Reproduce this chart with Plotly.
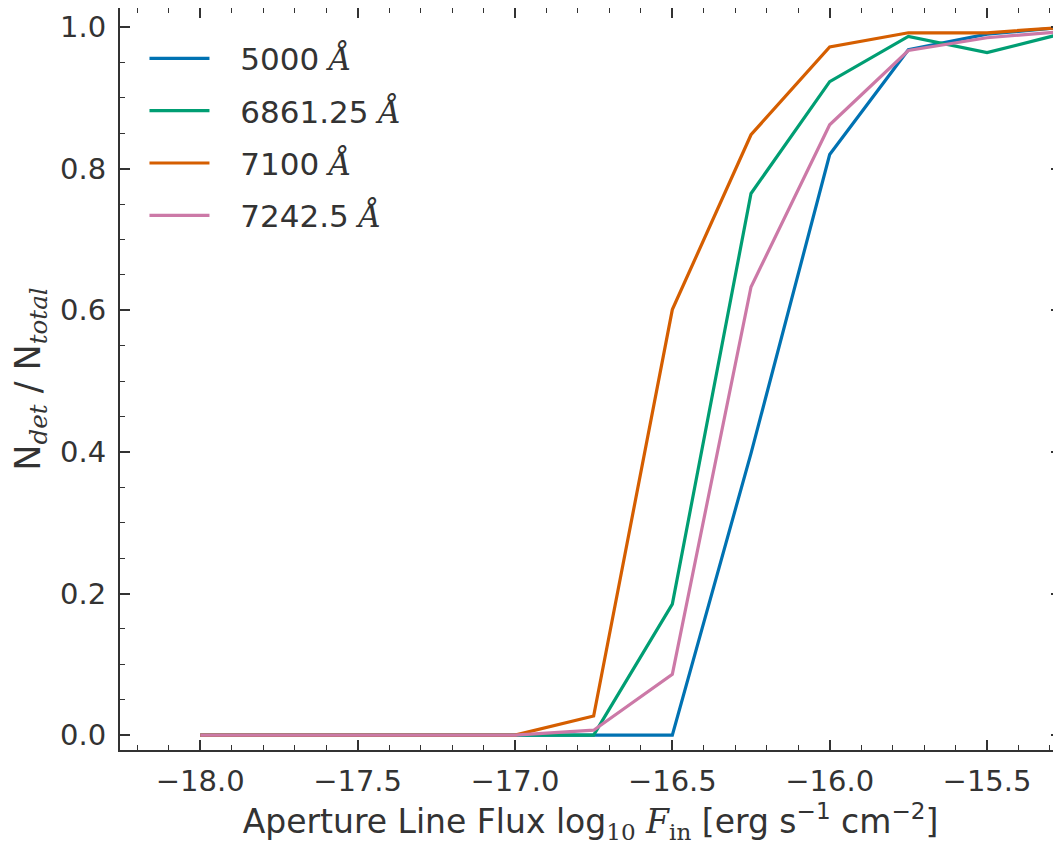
import plotly.graph_objects as go

flux = [-18.0, -17.75, -17.5, -17.25, -17.0, -16.75, -16.5, -16.25, -16.0, -15.75, -15.5, -15.25]
labels = ["5000", "6861.25", "7100", "7242.5"]
colors = ["#0072B2", "#009E73", "#D55E00", "#CC79A7"]
frac_5000 = [0, 0, 0, 0, 0, 0, 0, 0.398, 0.820, 0.968, 0.990, 1.000]
frac_6861 = [0, 0, 0, 0, 0, 0, 0.185, 0.765, 0.923, 0.987, 0.964, 0.992]
frac_7100 = [0, 0, 0, 0, 0, 0.027, 0.601, 0.848, 0.972, 0.992, 0.992, 1.000]
frac_7242 = [0, 0, 0, 0, 0, 0.007, 0.086, 0.633, 0.862, 0.967, 0.985, 0.994]
series = [frac_5000, frac_6861, frac_7100, frac_7242]

TXT = "#333333"
SERIF = "DejaVu Serif"

fig = go.Figure()
for i, (lab, col, ys) in enumerate(zip(labels, colors, series)):
    fig.add_trace(go.Scatter(
        x=flux, y=ys, mode="lines",
        line=dict(color=col, width=3.2),
        name=f"  \u2009{lab} <span style='font-family:{SERIF}'><i>Å</i></span>",
        legendgroup=f"g{i}",
    ))

axis_common = dict(
    showgrid=False, zeroline=False, showline=True, linecolor="#333333", linewidth=2,
    mirror="allticks", ticks="inside", ticklen=10, tickwidth=1.5, tickcolor="#333333",
    tickfont=dict(family="DejaVu Sans", size=29, color=TXT),
    automargin=False,
)

fig.update_xaxes(
    range=[-18.255, -15.265], tickvals=[-18.0, -17.5, -17.0, -16.5, -16.0, -15.5],
    ticktext=["−18.0", "−17.5", "−17.0", "−16.5", "−16.0", "−15.5"],
    minor=dict(dtick=0.1, tick0=-18.0, ticks="inside", ticklen=5, tickcolor="#333333", tickwidth=1),
    ticklabelstandoff=4,
    title=dict(
        text=("Aperture Line Flux log<sub><span style='font-family:" + SERIF + "'>10</span></sub> "
              "<span style='font-family:" + SERIF + "'><i>F</i></span><sub><span style='font-family:" + SERIF + "'>in</span></sub>"
              " [erg s<sup>−1</sup> cm<sup>−2</sup>]"),
        font=dict(family="DejaVu Sans", size=33, color=TXT), standoff=0),
    **axis_common,
)
fig.update_yaxes(
    range=[-0.021, 1.027], tickvals=[0.0, 0.2, 0.4, 0.6, 0.8, 1.0],
    ticktext=["0.0", "0.2", "0.4", "0.6", "0.8", "1.0"],
    minor=dict(dtick=0.05, tick0=0, ticks="inside", ticklen=5, tickcolor="#333333", tickwidth=1),
    ticklabelstandoff=6,
    title=dict(
        text=("N<sub><span style='font-family:" + SERIF + "'><i>det</i></span></sub> / "
              "N<sub><span style='font-family:" + SERIF + "'><i>total</i></span></sub>"),
        font=dict(family="DejaVu Sans", size=35, color=TXT), standoff=10),
    **axis_common,
)

fig.update_layout(
    width=1061, height=845,
    margin=dict(l=112, r=8, t=0, b=103, autoexpand=False),
    paper_bgcolor="white", plot_bgcolor="white",
    showlegend=True,
    legend=dict(x=0.026, y=0.968, xanchor="left", yanchor="top",
                font=dict(family="DejaVu Sans", size=31, color=TXT),
                bgcolor="rgba(0,0,0,0)", tracegroupgap=9, itemwidth=60),
)

fig.write_html("out.html")
